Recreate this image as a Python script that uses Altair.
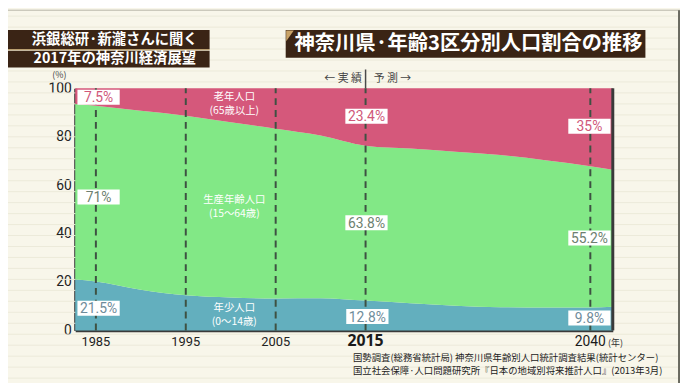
import altair as alt
import pandas as pd

# ---- data ----
years = [1982.7, 1985, 1990, 1995, 2000, 2005, 2010, 2015, 2020, 2025, 2030, 2035, 2040, 2042.5]
young_share = [21.0, 20.2, 16.8, 14.5, 13.6, 13.2, 13.3, 12.3, 11.2, 10.2, 9.6, 9.5, 9.5, 9.8]
elderly_share = [6.5, 7.2, 9.3, 11.3, 14.0, 16.7, 19.5, 23.7, 24.9, 26.2, 27.6, 29.7, 32.2, 33.7]
groups = ["年少人口", "生産年齢人口", "老年人口"]
group_colors = ["#63AFBE", "#82E886", "#D5587B"]

marker_years = [1985, 1995, 2005, 2015, 2040]
tick_years_plain = ["1985", "1995", "2005"]

label_texts = ["7.5%", "71%", "21.5%", "23.4%", "63.8%", "12.8%", "35%", "55.2%", "9.8%"]
label_years = [1985.3, 1985.3, 1985.3, 2015.1, 2015.1, 2015.2, 2039.9, 2039.9, 2039.9]
label_values = [96.3, 55.1, 9.1, 88.4, 44.5, 5.7, 84.3, 38.2, 5.1]
label_colors = ["#D0587A", "#6E7F70", "#6F8C9A"] * 3

cat_lines = ["老年人口", "(65歳以上)", "生産年齢人口", "(15〜64歳)", "年少人口", "(0〜14歳)"]
cat_values = [96.4, 90.6, 54.0, 48.2, 9.2, 3.4]
cat_year = 2000.4

source_lines = [
    "国勢調査(総務省統計局) 神奈川県年齢別人口統計調査結果(統計センター)",
    "国立社会保障·人口問題研究所『日本の地域別将来推計人口』(2013年3月)",
]

JP = "Noto Sans CJK JP"
NUM = "Liberation Sans Narrow, Roboto, Noto Sans"
XMIN, XMAX = 1982.7, 2042.5

rows = []
for y, yo, el in zip(years, young_share, elderly_share):
    wk = 100 - yo - el
    for i, (g, v) in enumerate(zip(groups, [yo, wk, el])):
        rows.append({"year": y, "group": g, "share": v, "ord": i})
df = pd.DataFrame(rows)

xs = alt.Scale(domain=[XMIN, XMAX], nice=False, zero=False)
ys = alt.Scale(domain=[0, 100], nice=False)

areas = alt.Chart(df).mark_area(interpolate="monotone").encode(
    x=alt.X("year:Q", scale=xs,
            axis=alt.Axis(labels=False, ticks=False, grid=False, title=None,
                          domainColor="#3a3a3a", domainWidth=3)),
    y=alt.Y("share:Q", stack="zero", scale=ys,
            axis=alt.Axis(values=[0, 20, 40, 60, 80, 100], grid=False, title=None,
                          domainColor="#3a3a3a", domainWidth=3, ticks=False,
                          labelFont=NUM, labelFontSize=14, labelColor="#222222",
                          labelPadding=4)),
    color=alt.Color("group:N", scale=alt.Scale(domain=groups, range=group_colors), legend=None),
    order=alt.Order("ord:Q"),
)

right_edge = alt.Chart(pd.DataFrame({"x": [XMAX]})).mark_rule(
    color="#3a3a3a", strokeWidth=3).encode(
    x=alt.X("x:Q", scale=xs), y=alt.datum(0), y2=alt.datum(100))

dashes = alt.Chart(pd.DataFrame({"year": marker_years})).mark_rule(
    color="#3E5142", strokeWidth=2, strokeDash=[7, 5]).encode(
    x=alt.X("year:Q", scale=xs), y=alt.datum(0), y2=alt.datum(100))

split_line = alt.Chart(pd.DataFrame({"x": [2015]})).mark_rule(
    color="#4a4a4a", strokeWidth=1.5).encode(
    x=alt.X("x:Q", scale=xs), y=alt.value(-19), y2=alt.value(0))

ldf = pd.DataFrame({"t": label_texts, "year": label_years, "v": label_values, "c": label_colors})
ldf["x1"] = ldf["year"] - 2.35
ldf["x2"] = ldf["year"] + 2.35
ldf["y1"] = ldf["v"] - 3.1
ldf["y2"] = ldf["v"] + 3.1

boxes = alt.Chart(ldf).mark_rect(color="white").encode(
    x=alt.X("x1:Q", scale=xs), x2="x2:Q",
    y=alt.Y("y1:Q", scale=ys), y2="y2:Q")
box_text = alt.Chart(ldf).mark_text(font=NUM, fontSize=14, baseline="middle", dy=1).encode(
    x=alt.X("year:Q", scale=xs), y=alt.Y("v:Q", scale=ys),
    text="t:N", color=alt.Color("c:N", scale=None))

cdf = pd.DataFrame({"t": cat_lines, "v": cat_values, "year": [cat_year] * len(cat_lines)})
cats = alt.Chart(cdf).mark_text(font=JP, fontSize=10.5, color="white", baseline="middle").encode(
    x=alt.X("year:Q", scale=xs), y=alt.Y("v:Q", scale=ys), text="t:N")

ydf = pd.DataFrame({"t": tick_years_plain, "year": [int(v) for v in tick_years_plain]})
ylabels = alt.Chart(ydf).mark_text(font=NUM, fontSize=13, color="#222222", baseline="middle").encode(
    x=alt.X("year:Q", scale=xs), y=alt.value(257), text="t:N")
y2015 = alt.Chart(pd.DataFrame({"t": ["2015"], "year": [2015]})).mark_text(
    font="Noto Sans, DejaVu Sans", fontSize=16, fontWeight="bold", color="#1a1a1a",
    baseline="middle").encode(x=alt.X("year:Q", scale=xs), y=alt.value(256), text="t:N")
y2040 = alt.Chart(pd.DataFrame({"t": ["2040"], "year": [2040]})).mark_text(
    font=NUM, fontSize=14, color="#1a1a1a", baseline="middle").encode(
    x=alt.X("year:Q", scale=xs), y=alt.value(257), text="t:N")
nen = alt.Chart(pd.DataFrame({"t": ["(年)"], "year": [2040]})).mark_text(
    font=JP, fontSize=9, color="#333333", baseline="middle", align="left", dx=18).encode(
    x=alt.X("year:Q", scale=xs), y=alt.value(258), text="t:N")

pct = alt.Chart(pd.DataFrame({"t": ["(%)"]})).mark_text(
    font=JP, fontSize=9, color="#444444", baseline="middle").encode(
    x=alt.value(-16), y=alt.value(-13.5), text="t:N")

jisseki = alt.Chart(pd.DataFrame({"t": ["← 実 績"]})).mark_text(
    font=JP, fontSize=11, color="#444444", baseline="middle", align="right").encode(
    x=alt.value(290), y=alt.value(-9), text="t:N")
yosoku = alt.Chart(pd.DataFrame({"t": ["予 測 →"]})).mark_text(
    font=JP, fontSize=11, color="#444444", baseline="middle", align="left").encode(
    x=alt.value(302), y=alt.value(-9), text="t:N")

sdf = pd.DataFrame({"t": source_lines, "yy": [273, 286]})
source = alt.Chart(sdf).mark_text(
    font=JP, fontSize=9.5, color="#222222", baseline="middle", align="left").encode(
    x=alt.value(281), y=alt.Y("yy:Q", scale=None), text="t:N")

# header boxes
hb1 = alt.Chart(pd.DataFrame({"a": [0]})).mark_rect(color="#3A2415").encode(
    x=alt.value(-70), x2=alt.value(136), y=alt.value(-59), y2=alt.value(-39.5))
hb2 = alt.Chart(pd.DataFrame({"a": [0]})).mark_rect(color="#3A2415").encode(
    x=alt.value(-70), x2=alt.value(136), y=alt.value(-38), y2=alt.value(-21))
hgold = alt.Chart(pd.DataFrame({"a": [0]})).mark_rule(color="#B8955A", strokeWidth=1).encode(
    x=alt.value(-70), x2=alt.value(136), y=alt.value(-39))
ht = alt.Chart(pd.DataFrame({"t": ["浜銀総研·新瀧さんに聞く", "2017年の神奈川経済展望"],
                             "yy": [-49, -29.5]})).mark_text(
    font=JP, fontSize=14.5, fontWeight="bold", color="white", baseline="middle").encode(
    x=alt.value(40), y=alt.Y("yy:Q", scale=None), text="t:N")

tb = alt.Chart(pd.DataFrame({"a": [0]})).mark_rect(color="#3A2415").encode(
    x=alt.value(213), x2=alt.value(577), y=alt.value(-59), y2=alt.value(-31))
tri = alt.Chart(pd.DataFrame({"a": [0]})).mark_point(
    shape="M-1,-1 L0.4,-1 L-1,1 Z", filled=True, color="#C9A368", opacity=1, size=120).encode(
    x=alt.value(219), y=alt.value(-53))
tt = alt.Chart(pd.DataFrame({"t": ["神奈川県·年齢3区分別人口割合の推移"]})).mark_text(
    font=JP, fontSize=20.5, fontWeight="bold", color="white", baseline="middle").encode(
    x=alt.value(398), y=alt.value(-45), text="t:N")

# decorative page lines (ruled-paper background)
paper = alt.Chart(pd.DataFrame({"py": [-73 + 11.1 * i for i in range(34)]})).mark_rule(
    color="#ECEAD9", strokeWidth=1).encode(
    x=alt.value(-68), x2=alt.value(612), y=alt.Y("py:Q", scale=None))
top_line = alt.Chart(pd.DataFrame({"a": [0]})).mark_rule(color="#B8B6A8", strokeWidth=1).encode(
    x=alt.value(-68), x2=alt.value(612), y=alt.value(-79))
bot_line = alt.Chart(pd.DataFrame({"a": [0]})).mark_rule(color="#B8B6A8", strokeWidth=1).encode(
    x=alt.value(-68), x2=alt.value(612), y=alt.value(301))
page_edge = alt.Chart(pd.DataFrame({"a": [0]})).mark_rule(color="#6a6a60", strokeWidth=2).encode(
    x=alt.value(611), y=alt.value(-79), y2=alt.value(305))

chart = alt.layer(
    paper, top_line, bot_line, page_edge, hb1, hb2, hgold, ht, tb, tri, tt,
    areas, dashes, right_edge, split_line, boxes, box_text, cats,
    ylabels, y2015, y2040, nen, pct, jisseki, yosoku, source,
).properties(
    width=544, height=245,
    autosize=alt.AutoSizeParams(type="none"),
    padding={"left": 68, "top": 79, "right": 68, "bottom": 51},
    background="#F8F6EA",
).configure_view(stroke=None)

chart.save("out.html", embed_options={"renderer": "svg", "actions": False})
